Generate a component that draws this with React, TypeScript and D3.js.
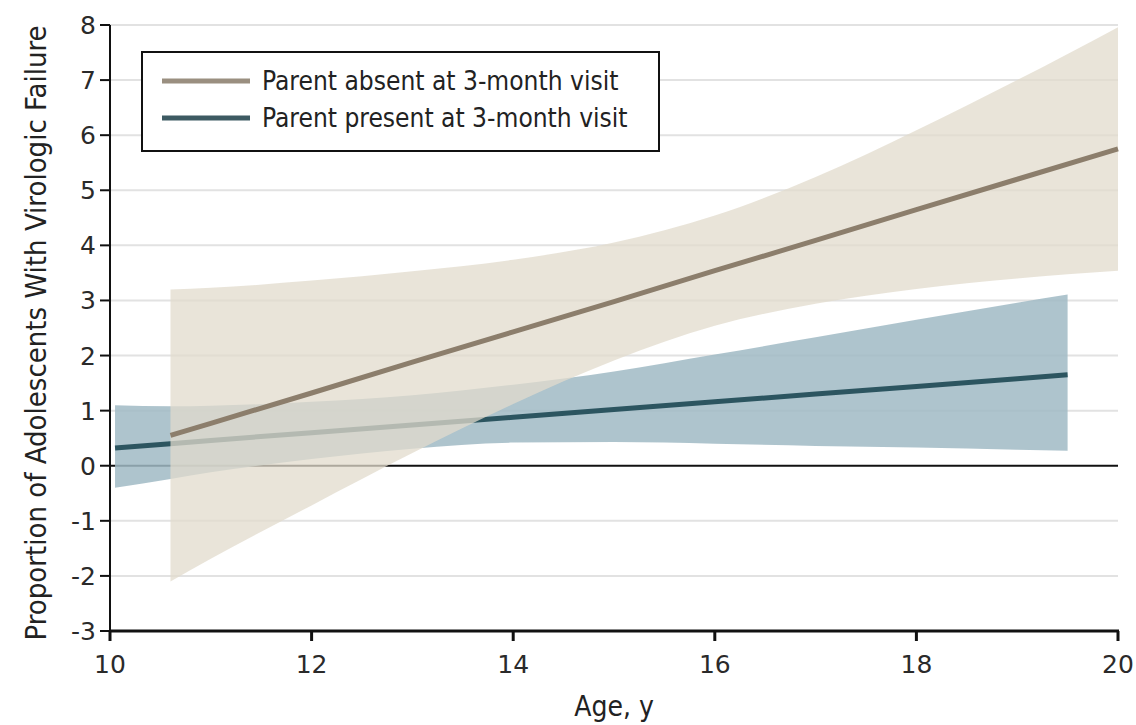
import React from 'react';
import * as d3 from 'd3';

// values
const absentAges = [10.6, 11, 12, 13, 14, 15, 16, 17, 18, 19, 20];
const absentFit = [0.55, 0.77, 1.32, 1.88, 2.43, 2.98, 3.54, 4.09, 4.65, 5.2, 5.75];
const absentUpper = [3.2, 3.23, 3.36, 3.53, 3.74, 4.05, 4.54, 5.24, 6.09, 7.0, 7.96];
const absentLower = [-2.1, -1.69, -0.72, 0.23, 1.12, 1.91, 2.54, 2.94, 3.21, 3.4, 3.54];

const presentAges = [10.05, 10.6, 11, 12, 13, 14, 15, 16, 17, 18, 19, 19.5];
const presentFit = [0.32, 0.4, 0.46, 0.6, 0.74, 0.88, 1.02, 1.16, 1.3, 1.44, 1.58, 1.65];
const presentUpper = [1.1, 1.08, 1.09, 1.16, 1.28, 1.47, 1.71, 2.02, 2.33, 2.65, 2.96, 3.11];
const presentLower = [-0.4, -0.24, -0.12, 0.12, 0.31, 0.42, 0.43, 0.4, 0.36, 0.33, 0.29, 0.27];

const xTicks = [10, 12, 14, 16, 18, 20];
const yTicks = [-3, -2, -1, 0, 1, 2, 3, 4, 5, 6, 7, 8];

const legendLabels = ['Parent absent at 3-month visit', 'Parent present at 3-month visit'];

const FONT = '"DejaVu Sans Condensed", "DejaVu Sans", sans-serif';
const TICK_FONT = '"DejaVu Sans", sans-serif';

const App = () => {
  const width = 1136;
  const height = 725;
  const x = d3.scaleLinear().domain([10, 20]).range([110, 1118]);
  const y = d3.scaleLinear().domain([-3, 8]).range([631, 25]);

  const band = (ages: number[], lo: number[], hi: number[]) =>
    d3.area<number>()
      .x((_, i) => x(ages[i]))
      .y0((_, i) => y(lo[i]))
      .y1((_, i) => y(hi[i]))
      .curve(d3.curveMonotoneX)(ages) as string;

  const fit = (ages: number[], vals: number[]) =>
    d3.line<number>()
      .x((_, i) => x(ages[i]))
      .y((_, i) => y(vals[i]))(ages) as string;

  const x0 = x(10);
  const x1 = x(20);

  return (
    <svg width={width} height={height} style={{ position: 'absolute', left: 0, top: 0 }} fontFamily={FONT}>
      <rect width={width} height={height} fill="#fff" />

      {/* gridlines */}
      {yTicks.filter(t => t !== 0 && t !== -3).map(t => (
        <line key={t} x1={x0} x2={x1} y1={y(t)} y2={y(t)} stroke="#e2e2e2" strokeWidth={2} />
      ))}
      <line x1={x0} x2={x1} y1={y(0)} y2={y(0)} stroke="#111" strokeWidth={2} />

      {/* parent present */}
      <path d={band(presentAges, presentLower, presentUpper)} fill="rgb(160,186,196)" fillOpacity={0.85} />
      <path d={fit(presentAges, presentFit)} fill="none" stroke="#2c5560" strokeWidth={5} />

      {/* parent absent */}
      <path d={band(absentAges, absentLower, absentUpper)} fill="rgb(226,219,204)" fillOpacity={0.75} />
      <path d={fit(absentAges, absentFit)} fill="none" stroke="#8c7e6c" strokeWidth={5} />

      {/* axes */}
      <line x1={x0} x2={x0} y1={y(8)} y2={y(-3)} stroke="#111" strokeWidth={2} />
      <line x1={x0} x2={x1 + 1} y1={y(-3)} y2={y(-3)} stroke="#111" strokeWidth={3} />
      {yTicks.map(t => (
        <g key={t} transform={`translate(${x0},${y(t)})`}>
          <line x1={-10} x2={0} stroke="#111" strokeWidth={2} />
          <text x={-14} dy="0.36em" textAnchor="end" fontSize={25} fontFamily={TICK_FONT} fill="#2a2a2a">{t}</text>
        </g>
      ))}
      {xTicks.map(t => (
        <g key={t} transform={`translate(${x(t)},${y(-3)})`}>
          <line y1={0} y2={10} stroke="#111" strokeWidth={3} />
          <text y={42} textAnchor="middle" fontSize={25} fontFamily={TICK_FONT} fill="#2a2a2a">{t}</text>
        </g>
      ))}

      <text x={x(15)} y={716} textAnchor="middle" fontSize={28} fill="#222">Age, y</text>
      <text transform={`translate(46,${(y(8) + y(-3)) / 2 + 5}) rotate(-90)`} textAnchor="middle" fontSize={29} fill="#222">
        Proportion of Adolescents With Virologic Failure
      </text>

      {/* legend */}
      <rect x={142} y={52} width={517} height={99} fill="#fff" stroke="#111" strokeWidth={2} />
      {legendLabels.map((label, i) => (
        <g key={label} transform={`translate(162,${81 + i * 37})`}>
          <line x1={0} x2={88} stroke={i === 0 ? '#9a8f80' : '#3d5a62'} strokeWidth={5} />
          <text x={100} dy="0.36em" fontSize={26.1} fill="#222">{label}</text>
        </g>
      ))}
    </svg>
  );
};

export default App;
